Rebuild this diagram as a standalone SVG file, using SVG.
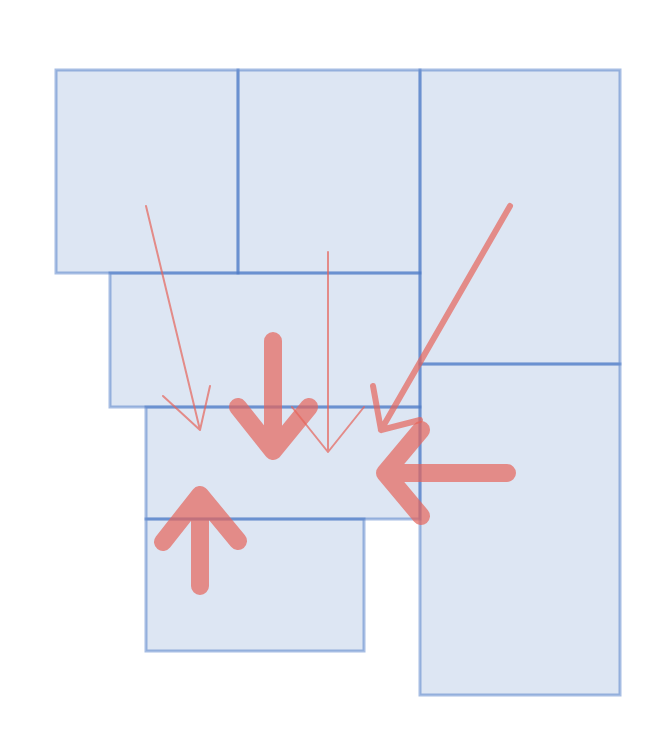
<svg xmlns="http://www.w3.org/2000/svg" width="670" height="740" viewBox="0 0 670 740">
<style>
.n{fill:#4a78c0;fill-opacity:0.19;stroke:#3a6cc0;stroke-opacity:0.45;stroke-width:3}
.a{fill:none;stroke:#e6645a;stroke-opacity:0.7;stroke-linecap:round;stroke-linejoin:round}
</style>
<rect width="670" height="740" fill="#ffffff"/>
<g id="nA"><rect class="n" x="56" y="70" width="182" height="203"/></g>
<g id="nB"><rect class="n" x="238" y="70" width="182" height="203"/></g>
<g id="nC"><rect class="n" x="420" y="70" width="200" height="294"/></g>
<g id="nD"><rect class="n" x="110" y="273" width="310" height="134"/></g>
<g id="nE"><rect class="n" x="146" y="407" width="274" height="112"/></g>
<g id="nF"><rect class="n" x="146" y="519" width="218" height="132"/></g>
<g id="nG"><rect class="n" x="420" y="364" width="200" height="331"/></g>
<g id="connectors">
<path class="a" stroke-width="2" d="M146,206 L200,430 M163,396 L200,430 L210,386"/>
<path class="a" stroke-width="2" d="M328,252 L328,452 M292,407 L328,452 L364,407"/>
<path class="a" stroke-width="6" d="M510,206 L381,430 M373,386 L381,430 L420,420"/>
<path class="a" stroke-width="18" d="M273,341 L273,451 M238,407 L273,451 L309,407"/>
<path class="a" stroke-width="18" d="M200,586 L200,495 M163,542 L200,495 L238,541"/>
<path class="a" stroke-width="18" d="M507,473 L385,473 M421,430 L385,473 L421,516"/>
</g>
</svg>
